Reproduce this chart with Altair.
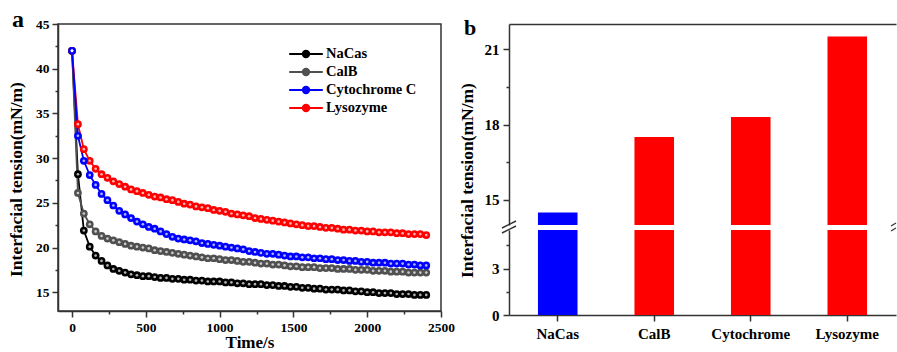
import altair as alt
import pandas as pd

# ---------------- data ----------------
series_names = ["NaCas", "CalB", "Cytochrome C", "Lysozyme"]
series_colors = ["#000000", "#505050", "#0000ff", "#ff0000"]
draw_order = ["NaCas", "CalB", "Lysozyme", "Cytochrome C"]

time_s = [0, 40, 80, 120, 160, 200, 240, 280, 320, 360,
          400, 440, 480, 520, 560, 600, 640, 680, 720, 760,
          800, 840, 880, 920, 960, 1000, 1040, 1080, 1120, 1160,
          1200, 1240, 1280, 1320, 1360, 1400, 1440, 1480, 1520, 1560,
          1600, 1640, 1680, 1720, 1760, 1800, 1840, 1880, 1920, 1960,
          2000, 2040, 2080, 2120, 2160, 2200, 2240, 2280, 2320, 2360,
          2400]

nacas = [42.0, 28.2, 21.9, 20.1, 19.1, 18.5, 18.0, 17.6, 17.4, 17.2,
         17.0, 16.9, 16.8, 16.8, 16.7, 16.6, 16.6, 16.5, 16.5, 16.4,
         16.4, 16.3, 16.3, 16.2, 16.2, 16.2, 16.1, 16.1, 16.0, 16.0,
         15.9, 15.9, 15.9, 15.8, 15.8, 15.7, 15.7, 15.6, 15.6, 15.5,
         15.5, 15.4, 15.4, 15.3, 15.3, 15.3, 15.2, 15.2, 15.1, 15.1,
         15.0, 15.0, 14.9, 14.9, 14.9, 14.8, 14.8, 14.8, 14.7, 14.7,
         14.7]

calb = [42.0, 26.1, 23.8, 22.6, 21.8, 21.3, 21.0, 20.8, 20.6, 20.4,
        20.2, 20.1, 20.0, 19.9, 19.7, 19.6, 19.5, 19.4, 19.3, 19.2,
        19.1, 19.0, 18.9, 18.8, 18.8, 18.7, 18.6, 18.6, 18.5, 18.4,
        18.4, 18.3, 18.2, 18.2, 18.1, 18.1, 18.0, 17.9, 17.9, 17.8,
        17.8, 17.8, 17.7, 17.7, 17.7, 17.6, 17.6, 17.6, 17.5, 17.5,
        17.5, 17.4, 17.4, 17.4, 17.3, 17.3, 17.3, 17.2, 17.2, 17.2,
        17.2]

cytochrome = [42.0, 32.5, 29.7, 28.1, 27.0, 26.0, 25.3, 24.7, 24.1, 23.7,
              23.3, 22.9, 22.6, 22.3, 22.1, 21.8, 21.5, 21.2, 21.0, 20.9,
              20.8, 20.7, 20.5, 20.4, 20.3, 20.2, 20.1, 20.0, 19.9, 19.8,
              19.6, 19.5, 19.4, 19.3, 19.3, 19.2, 19.1, 19.0, 19.0, 18.9,
              18.9, 18.8, 18.8, 18.7, 18.7, 18.6, 18.6, 18.5, 18.5, 18.4,
              18.4, 18.3, 18.3, 18.3, 18.2, 18.2, 18.2, 18.1, 18.1, 18.0,
              18.0]

lysozyme = [42.0, 33.8, 31.0, 29.7, 28.8, 28.2, 27.8, 27.4, 27.1, 26.8,
            26.5, 26.3, 26.1, 25.9, 25.7, 25.6, 25.4, 25.3, 25.1, 24.9,
            24.8, 24.6, 24.5, 24.4, 24.2, 24.1, 24.0, 23.8, 23.7, 23.6,
            23.5, 23.3, 23.2, 23.1, 23.0, 22.9, 22.8, 22.7, 22.6, 22.5,
            22.4, 22.4, 22.3, 22.2, 22.2, 22.1, 22.0, 22.0, 21.9, 21.9,
            21.8, 21.8, 21.7, 21.7, 21.7, 21.6, 21.6, 21.5, 21.5, 21.5,
            21.4]

x_major_a = [0, 500, 1000, 1500, 2000, 2500]
x_minor_a = [250, 750, 1250, 1750, 2250]
y_major_a = [15, 20, 25, 30, 35, 40, 45]
y_minor_a = [17.5, 22.5, 27.5, 32.5, 37.5, 42.5]

bar_categories = ["NaCas", "CalB", "Cytochrome", "Lysozyme"]
bar_values = [14.5, 17.5, 18.3, 21.5]
bar_colors = ["#0000ff", "#ff0000", "#ff0000", "#ff0000"]

y_major_upper = [15, 18, 21]
y_minor_upper = [16.5, 19.5]
y_major_lower = [0, 3]
y_minor_lower = [1.5, 4.5]

# ---------------- tables ----------------
series_values = {"NaCas": nacas, "CalB": calb,
                 "Cytochrome C": cytochrome, "Lysozyme": lysozyme}
rows = []
for name in draw_order:
    for t, v in zip(time_s, series_values[name]):
        rows.append({"series": name, "time": t, "value": v})
df = pd.DataFrame(rows)
bar_df = pd.DataFrame({"cat": bar_categories, "val": bar_values})
one = pd.DataFrame({"k": [0]})

FONT = "Liberation Serif"
AX = "#333333"

# ---------------- panel a ----------------
xs_a = alt.Scale(domain=[-95, 2500], nice=False, zero=False)
ys_a = alt.Scale(domain=[12.9, 45], nice=False, zero=False)
col_scale = alt.Scale(domain=series_names, range=series_colors)

ax_x_major = alt.Axis(orient="bottom", values=x_major_a, format="d", tickSize=6,
                      labelPadding=3, labelFontSize=13.5, labelFlush=False,
                      title="Time/s", titleFontSize=17, titlePadding=1)
ax_y_major = alt.Axis(orient="left", values=y_major_a, tickSize=6, labelPadding=3,
                      labelFontSize=13.5, labelFlush=False,
                      title="Interfacial tension(mN/m)", titleFontSize=17.5,
                      titleX=-33, titleY=155)
ax_x_minor = alt.Axis(orient="bottom", values=x_minor_a, tickSize=3, labels=False,
                      domain=False, title=None)
ax_y_minor = alt.Axis(orient="left", values=y_minor_a, tickSize=3, labels=False,
                      domain=False, title=None)

u = 8.0
r1, r2, r3 = 3.2 / u, 2.1 / u, 1.0 / u
def circ(r):
    return f"M{r},0A{r},{r},0,1,1,{-r},0A{r},{r},0,1,1,{r},0"
legend_path = "M-2.1,0L2.1,0" + circ(r1) + circ(r2) + circ(r3)

legend_a = alt.Legend(title=None, orient="none", legendX=239, legendY=21,
                      symbolType=legend_path, symbolSize=256, symbolStrokeWidth=2,
                      labelFont=FONT, labelFontWeight="bold", labelFontSize=14.5,
                      labelColor="black", labelOffset=11, rowPadding=1, padding=0)

base = alt.Chart(df)
lines = base.mark_line(strokeWidth=1.8).encode(
    x=alt.X("time:Q", scale=xs_a, axis=ax_x_major),
    y=alt.Y("value:Q", scale=ys_a, axis=ax_y_major),
    color=alt.Color("series:N", scale=col_scale, legend=legend_a),
)
points = base.mark_circle(size=60, opacity=1).encode(
    x=alt.X("time:Q", scale=xs_a, axis=None),
    y=alt.Y("value:Q", scale=ys_a, axis=None),
    fill=alt.Fill("series:N", scale=col_scale, legend=None),
)
highlights = base.mark_circle(size=7, color="white", opacity=0.7).encode(
    x=alt.X("time:Q", scale=xs_a, axis=None),
    y=alt.Y("value:Q", scale=ys_a, axis=None),
)
minor_a = base.mark_point(opacity=0).encode(
    x=alt.X("time:Q", scale=xs_a, axis=ax_x_minor),
    y=alt.Y("value:Q", scale=ys_a, axis=ax_y_minor),
)
label_a = alt.Chart(pd.DataFrame({"t": ["a"]})).mark_text(
    font=FONT, fontWeight="bold", fontSize=24, align="left", baseline="top", color="black"
).encode(x=alt.value(-46), y=alt.value(-16), text="t:N")

panel_a = alt.layer(lines, points, highlights, minor_a, label_a).resolve_axis(
    x="independent", y="independent"
).properties(width=383, height=287,
             view=alt.ViewBackground(stroke=AX, strokeWidth=1.5))

# ---------------- panel b ----------------
W_B, H_UP, H_LO = 387, 201, 85
xs_b = alt.Scale(paddingInner=0.59, paddingOuter=0.30)
bar_col = alt.Scale(domain=bar_categories, range=bar_colors)
ys_up = alt.Scale(domain=[14, 22], nice=False, zero=False)
ys_lo = alt.Scale(domain=[0, 5.5], nice=False, zero=False)

ax_top = alt.Axis(orient="top", labels=False, ticks=False, title=None, domain=True)
ax_bottom = alt.Axis(orient="bottom", labelAngle=0, labelFontSize=15, tickSize=6,
                     labelPadding=5, title=None)
ax_up_major = alt.Axis(orient="left", values=y_major_upper, tickSize=6, labelPadding=4,
                       labelFontSize=15, title="Interfacial tension(mN/m)",
                       titleFontSize=17.5, titleX=-33, titleY=156)
ax_up_minor = alt.Axis(orient="left", values=y_minor_upper, tickSize=3, labels=False,
                       domain=False, title=None)
ax_lo_major = alt.Axis(orient="left", values=y_major_lower, tickSize=6, labelPadding=4,
                       labelFontSize=15, title=None)
ax_lo_minor = alt.Axis(orient="left", values=y_minor_lower, tickSize=3, labels=False,
                       domain=False, title=None)

bb = alt.Chart(bar_df)
up_bars = bb.mark_bar(clip=True).encode(
    x=alt.X("cat:N", sort=bar_categories, scale=xs_b, axis=ax_top),
    y=alt.Y("val:Q", scale=ys_up, axis=ax_up_major),
    color=alt.Color("cat:N", scale=bar_col, legend=None),
)
up_minor = bb.mark_bar(clip=True, opacity=0).encode(
    x=alt.X("cat:N", sort=bar_categories, scale=xs_b, axis=None),
    y=alt.Y("val:Q", scale=ys_up, axis=ax_up_minor),
)
label_b = alt.Chart(pd.DataFrame({"t": ["b"]})).mark_text(
    font=FONT, fontWeight="bold", fontSize=22, align="left", baseline="top", color="black"
).encode(x=alt.value(-45), y=alt.value(-6), text="t:N")
brk_up_l = alt.Chart(one).mark_rule(color=AX, strokeWidth=1.5).encode(
    x=alt.value(-7), x2=alt.value(7), y=alt.value(H_UP + 3), y2=alt.value(H_UP - 4))
brk_up_r = alt.Chart(one).mark_rule(color=AX, strokeWidth=1.2).encode(
    x=alt.value(W_B - 5), x2=alt.value(W_B), y=alt.value(H_UP + 1), y2=alt.value(H_UP - 2))

upper = alt.layer(up_bars, up_minor, label_b, brk_up_l, brk_up_r).resolve_axis(
    x="independent", y="independent"
).properties(width=W_B, height=H_UP)

lo_bars = bb.mark_bar(clip=True).encode(
    x=alt.X("cat:N", sort=bar_categories, scale=xs_b, axis=ax_bottom),
    y=alt.Y("val:Q", scale=ys_lo, axis=ax_lo_major),
    color=alt.Color("cat:N", scale=bar_col, legend=None),
)
lo_minor = bb.mark_bar(clip=True, opacity=0).encode(
    x=alt.X("cat:N", sort=bar_categories, scale=xs_b, axis=None),
    y=alt.Y("val:Q", scale=ys_lo, axis=ax_lo_minor),
)
brk_lo_l = alt.Chart(one).mark_rule(color=AX, strokeWidth=1.5).encode(
    x=alt.value(-7), x2=alt.value(7), y=alt.value(3), y2=alt.value(-4))
brk_lo_r = alt.Chart(one).mark_rule(color=AX, strokeWidth=1.2).encode(
    x=alt.value(W_B - 5), x2=alt.value(W_B), y=alt.value(1), y2=alt.value(-2))

lower = alt.layer(lo_bars, lo_minor, brk_lo_l, brk_lo_r).resolve_axis(
    x="independent", y="independent"
).properties(width=W_B, height=H_LO)

panel_b = alt.vconcat(upper, lower, spacing=5, bounds="flush").resolve_scale(
    y="independent", x="independent", color="independent")

chart = alt.hconcat(panel_a, panel_b, spacing=68, bounds="flush").resolve_scale(
    x="independent", y="independent", color="independent", fill="independent"
).properties(
    padding={"left": 6, "top": 7, "right": 0, "bottom": 0},
    background="white",
).configure_view(stroke=None).configure_axis(
    labelFont=FONT, labelFontWeight="bold", labelColor="black",
    titleFont=FONT, titleFontWeight="bold", titleColor="black",
    domainColor=AX, tickColor=AX, domainWidth=1.5, tickWidth=1.5, grid=False,
)

chart.save("out.html", embed_options={"renderer": "svg", "actions": False})
